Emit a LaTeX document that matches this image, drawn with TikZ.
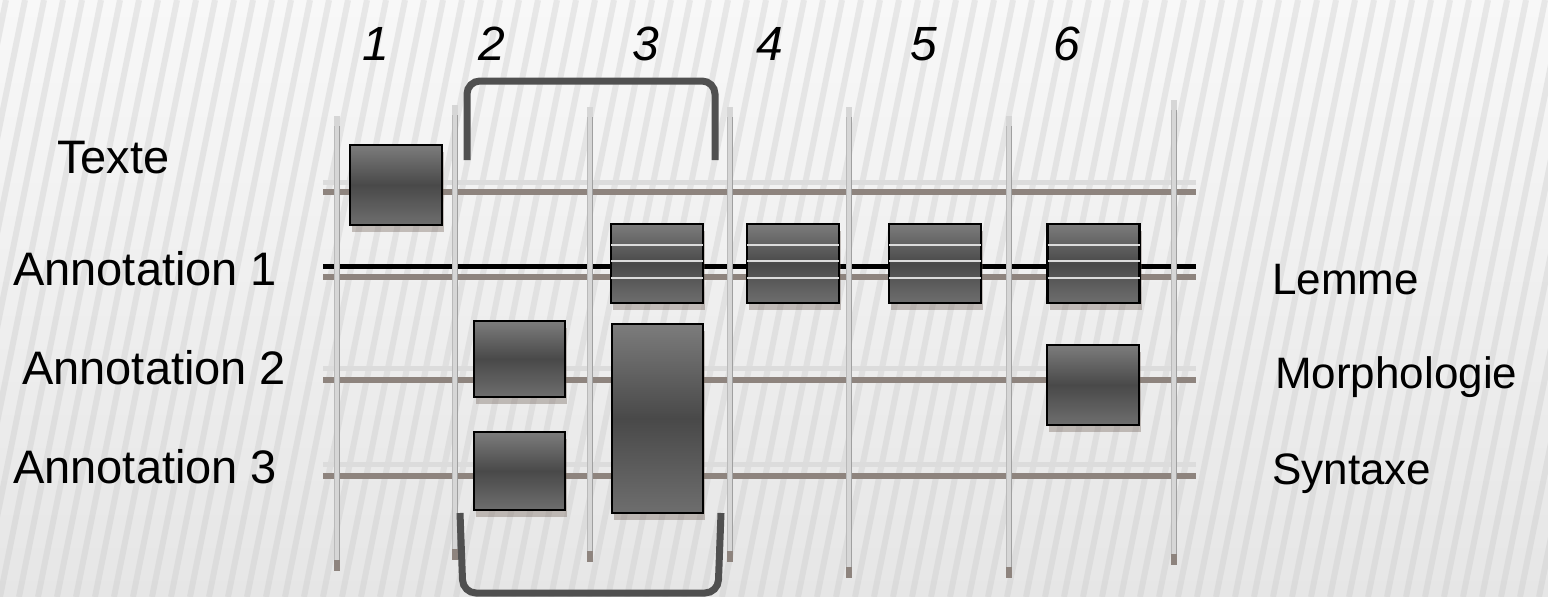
\documentclass[tikz,border=0pt]{standalone}
\usepackage{fontspec}
\setmainfont{Liberation Sans}
\usetikzlibrary{shadows}
\definecolor{bgtop}{HTML}{F8F8F8}
\definecolor{bgbot}{HTML}{E6E6E6}
\definecolor{stripe}{HTML}{C8C8C8}
\definecolor{lightrail}{HTML}{DCDCDC}
\definecolor{brownrail}{HTML}{8E847E}
\definecolor{vfill}{HTML}{D6D6D6}
\definecolor{vedge}{HTML}{A0A0A0}
\definecolor{boxtop}{HTML}{7C7C7C}
\definecolor{boxmid}{HTML}{494949}
\definecolor{boxbot}{HTML}{6E6E6E}
\definecolor{brk}{HTML}{505050}
\definecolor{shadowc}{HTML}{6B5A50}
\tikzset{
  lbl/.style={font=\fontsize{47}{50}\selectfont, text=black, inner sep=0pt, anchor=base west},
  rlbl/.style={font=\fontsize{44}{48}\selectfont, text=black, inner sep=0pt, anchor=base west},
  num/.style={font=\fontsize{48}{52}\selectfont\itshape, text=black, inner sep=0pt, anchor=base},
  box/.style={draw=black, line width=2.5pt, top color=boxtop, bottom color=boxbot, middle color=boxmid,
    inner sep=0pt, outer sep=0pt,
    drop shadow={shadow xshift=2pt, shadow yshift=-7pt, fill=shadowc, opacity=0.35}},
  boxline/.style={draw=lightrail, line width=2pt},
  lrail/.style={draw=lightrail, line width=5pt},
  brail/.style={draw=brownrail, line width=5.5pt},
  krail/.style={draw=black, line width=5pt},
  vline/.style={draw=vfill, line width=6pt},
  vedgeline/.style={draw=vedge, line width=1pt},
  vcap/.style={draw=brownrail, line width=6pt},
  bracket/.style={draw=brk, line width=7pt, rounded corners=13pt, line cap=butt}
}
\begin{document}
\begin{tikzpicture}[x=1pt,y=-1pt]
\useasboundingbox (0,0) rectangle (1548,597);
% background
\fill[top color=bgtop, bottom color=bgbot] (0,0) rectangle (1548,597);
\begin{scope}
\clip (0,0) rectangle (1548,597);
\foreach \i in {-10,...,85} {
  \draw[stripe, line width=6pt, opacity=0.35] (\i*19,597) -- (\i*19+120,0);
}
\end{scope}
% rails
\coordinate (r0a) at (323,182); \coordinate (r0b) at (1196,182);
\coordinate (r0c) at (323,192); \coordinate (r0d) at (1196,192);
\coordinate (r1a) at (323,266); \coordinate (r1b) at (1196,266);
\coordinate (r1c) at (323,277); \coordinate (r1d) at (1196,277);
\coordinate (r2a) at (323,368); \coordinate (r2b) at (1196,368);
\coordinate (r2c) at (323,380); \coordinate (r2d) at (1196,380);
\coordinate (r3a) at (323,464); \coordinate (r3b) at (1196,464);
\coordinate (r3c) at (323,476); \coordinate (r3d) at (1196,476);
\draw[lrail] (r0a) -- (r0b);
\draw[brail] (r0c) -- (r0d);
\draw[krail] (r1a) -- (r1b);
\draw[brail] (r1c) -- (r1d);
\draw[lrail] (r2a) -- (r2b);
\draw[brail] (r2c) -- (r2d);
\draw[lrail] (r3a) -- (r3b);
\draw[brail] (r3c) -- (r3d);
% vertical lines
\foreach \x/\t/\b in {337/116/571, 455/105/560, 590/107/562, 730/107/562, 849/107/578, 1009/116/578, 1174/100/565} {
  \draw[vline] (\x,\t) -- (\x,\b);
  \draw[vedgeline] (\x+2.8,\t+10) -- (\x+2.8,\b);
  \draw[vedgeline, opacity=0.5] (\x-2.8,\t+10) -- (\x-2.8,\b);
  \draw[vcap] (\x,\b-11) -- (\x,\b);
}
% boxes
\node[box, minimum width=92pt, minimum height=80pt] (tx) at (396,185) {};
\node[box, minimum width=92pt, minimum height=79pt] (a1) at (657,263.5) {};
\node[box, minimum width=92pt, minimum height=79pt] (a2) at (793,263.5) {};
\node[box, minimum width=92pt, minimum height=79pt] (a3) at (935,263.5) {};
\node[box, minimum width=92pt, minimum height=79pt] (a4) at (1093.5,263.5) {};
\foreach \n in {a1,a2,a3,a4} {
  \foreach \d in {21,37,54} {
    \draw[boxline] ([yshift=-\d pt]\n.north west) -- ([yshift=-\d pt]\n.north east);
  }
}
\node[box, minimum width=91pt, minimum height=76pt] (m2) at (519.5,359) {};
\node[box, minimum width=91pt, minimum height=78pt] (s2) at (519.5,471) {};
\node[box, minimum width=91pt, minimum height=189pt] (t3) at (657.5,418.5) {};
\node[box, minimum width=92pt, minimum height=80pt] (m6) at (1093,385) {};
% brackets
\coordinate (bt1) at (467,160); \coordinate (bt2) at (467,81);
\coordinate (bt3) at (715,81); \coordinate (bt4) at (715,160);
\draw[bracket] (bt1) -- (bt2) -- (bt3) -- (bt4);
\coordinate (bb1) at (460,513); \coordinate (bb2) at (463,593);
\coordinate (bb3) at (718,593); \coordinate (bb4) at (721,513);
\draw[bracket] (bb1) -- (bb2) -- (bb3) -- (bb4);
% labels
\node[lbl] (ltexte) at (57,173) {Texte};
\node[lbl] (lann1) at (13,285) {Annotation 1};
\node[lbl] (lann2) at (22,384) {Annotation 2};
\node[lbl] (lann3) at (13,483) {Annotation 3};
\node[rlbl] (llemme) at (1272,294) {Lemme};
\node[rlbl] (lmorph) at (1275,388) {Morphologie};
\node[rlbl] (lsyn) at (1272,484) {Syntaxe};
\node[num] (n1) at (376,60) {1};
\node[num] (n2) at (492,60) {2};
\node[num] (n3) at (646,60) {3};
\node[num] (n4) at (770,60) {4};
\node[num] (n5) at (924,60) {5};
\node[num] (n6) at (1067,60) {6};
\end{tikzpicture}
\end{document}
